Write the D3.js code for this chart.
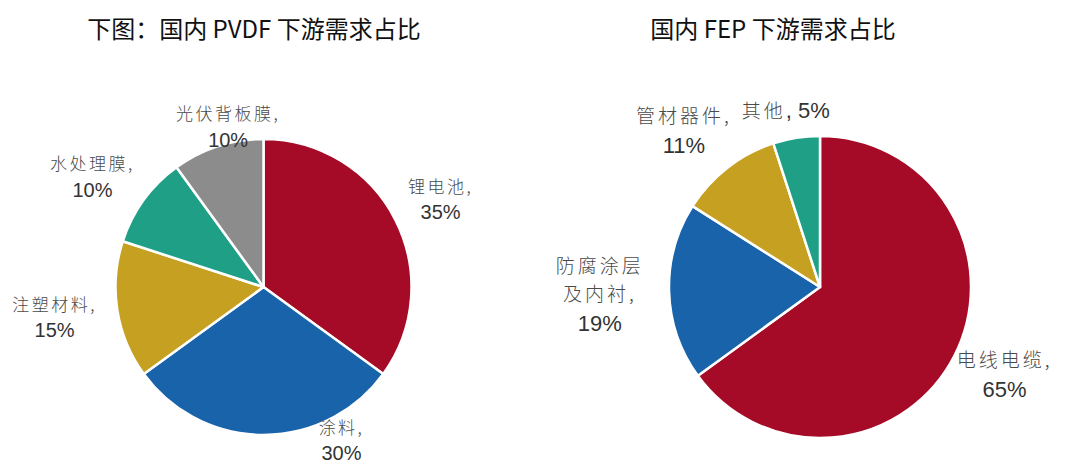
<!DOCTYPE html>
<html>
<head>
<meta charset="utf-8">
<script src="https://cdn.jsdelivr.net/npm/d3@7/dist/d3.min.js"></script>
<style>
  body{margin:0;background:#fff;}
  svg{display:block;}
</style>
</head>
<body>
<div id="chart"></div>
<script>
let w=1080;
let h=476;

// data
let pvdfNames=["锂电池","涂料","注塑材料","水处理膜","光伏背板膜"];
let pvdfValues=[35,30,15,10,10];
let pvdfColors=["#a50a26","#1863aa","#c6a020","#1fa086","#8c8c8c"];

let fepNames=["电线电缆","防腐涂层及内衬","管材器件","其他"];
let fepValues=[65,19,11,5];
let fepColors=["#a50a26","#1863aa","#c6a020","#1fa086"];

// label layout: where the name breaks, whether value sits on the same line, nudges
let pvdfBreaks=[0,0,0,0,0];
let pvdfInline=[false,false,false,false,false];
let pvdfNudge=[[3,1],[78,-42],[-16,0],[-13,5],[25,26]];

let fepBreaks=[0,4,0,0];
let fepInline=[false,false,false,true];
let fepNudge=[[7,-2],[-21,2],[-14,2],[-3,22]];

let svg=d3.select("#chart").append("svg")
  .attr("width",w)
  .attr("height",h);

function drawPie(opt){
  let g=svg.append("g").attr("transform","translate("+opt.cx+","+opt.cy+")");

  let pie=d3.pie().sort(null).value(function(d){return d.value;});
  let arcs=pie(opt.names.map(function(n,i){return {name:n,value:opt.values[i],i:i};}));

  let arcMaker=d3.arc().innerRadius(0).outerRadius(opt.r);
  let labelArc=d3.arc().innerRadius(opt.r*1.32).outerRadius(opt.r*1.32);

  g.selectAll(".slice").data(arcs).enter()
    .append("path")
    .attr("class","slice")
    .attr("d",arcMaker)
    .attr("fill",function(d){return opt.colors[d.data.i];})
    .attr("stroke","#fff")
    .attr("stroke-width",2.5)
    .attr("stroke-linejoin","round");

  arcs.forEach(function(d){
    let i=d.data.i;
    let c=labelArc.centroid(d);
    let x=c[0]+opt.nudge[i][0];
    let y=c[1]+opt.nudge[i][1];

    let name=d.data.name;
    let lines=[];
    let b=opt.breaks[i];
    if(b>0){
      lines.push({t:name.slice(0,b),num:false});
      name=name.slice(b);
    }
    if(opt.inline[i]){
      lines.push({t:name,num:false,val:", "+d.data.value+"%"});
    }else{
      lines.push({t:name+",",num:false});
      lines.push({t:d.data.value+"%",num:true});
    }

    let n=lines.length;
    let y0=y-(n-1)*opt.lh/2;
    lines.forEach(function(l,k){
      let t=g.append("text")
        .attr("x",x)
        .attr("y",y0+k*opt.lh)
        .attr("dy","0.36em")
        .attr("text-anchor","middle")
        .attr("fill","#333");
      if(l.num){
        t.text(l.t)
          .style("font-family","'Liberation Sans', Arial, sans-serif")
          .style("font-size",opt.numSize+"px");
      }else{
        t.append("tspan")
          .text(l.t)
          .attr("fill","#4a4a4a")
          .style("font-family","'Noto Sans CJK SC', sans-serif")
          .style("font-weight","300")
          .style("font-size",opt.cjkSize+"px")
          .style("letter-spacing",opt.spacing+"px");
        if(l.val){
          t.append("tspan")
            .text(l.val)
            .style("font-family","'Liberation Sans', Arial, sans-serif")
            .style("font-size",opt.numSize+"px");
        }
      }
    });
  });

  svg.append("text")
    .text(opt.title)
    .attr("x",opt.titleX)
    .attr("y",38)
    .attr("text-anchor","middle")
    .attr("fill","#111")
    .style("font-family","'Noto Sans CJK SC', sans-serif")
    .style("font-size","24px");
}

drawPie({
  title:"下图：国内 PVDF 下游需求占比",titleX:254,
  cx:263.5,cy:287,r:148,
  names:pvdfNames,values:pvdfValues,colors:pvdfColors,
  breaks:pvdfBreaks,inline:pvdfInline,nudge:pvdfNudge,
  lh:25,cjkSize:17,numSize:20,spacing:2.5
});

drawPie({
  title:"国内 FEP 下游需求占比",titleX:773,
  cx:820,cy:287,r:151,
  names:fepNames,values:fepValues,colors:fepColors,
  breaks:fepBreaks,inline:fepInline,nudge:fepNudge,
  lh:28,cjkSize:19,numSize:22,spacing:3
});
</script>
</body>
</html>
